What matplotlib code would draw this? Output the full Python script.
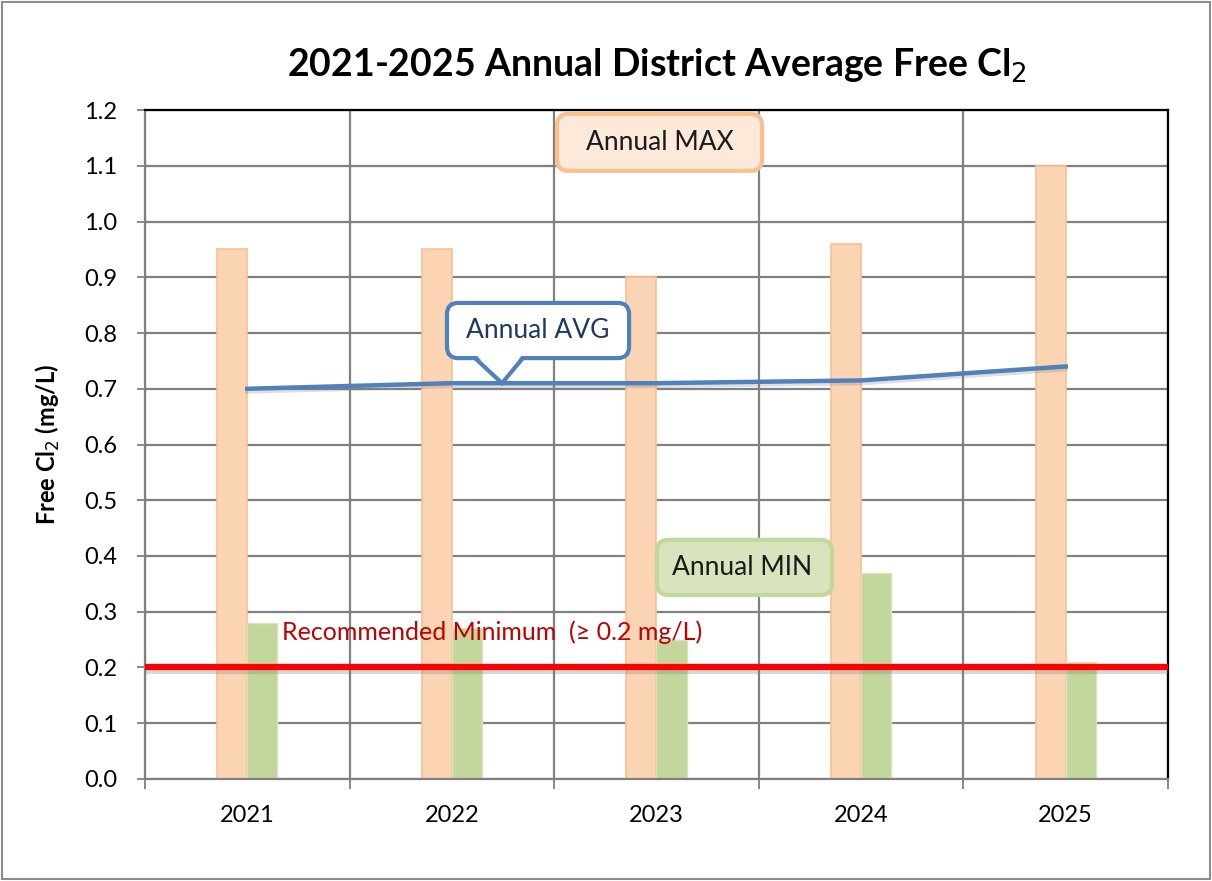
import matplotlib.pyplot as plt
import matplotlib.patheffects as pe
from matplotlib.patches import FancyBboxPatch
import numpy as np

plt.rcParams['font.family'] = ['Lato', 'DejaVu Sans']

years = ["2021", "2022", "2023", "2024", "2025"]
annual_max = [0.95, 0.95, 0.90, 0.96, 1.10]
annual_min = [0.28, 0.27, 0.25, 0.37, 0.21]
annual_avg = [0.70, 0.71, 0.71, 0.715, 0.74]
rec_min = 0.2

x = np.arange(len(years))
w = 0.147

fig = plt.figure(figsize=(12.12, 8.81), dpi=100)
ax = fig.add_axes([0.1196, 0.1158, 0.8441, 0.7593])

# outer chart border
fig.patches.append(plt.Rectangle((0.002, 0.002), 0.996, 0.996, transform=fig.transFigure,
                                 fill=False, ec="#8c8c8c", lw=1.5))

# grid
ax.set_xlim(-0.5, len(years) - 0.5)
ax.set_ylim(0, 1.2)
ax.set_yticks(np.arange(0, 1.21, 0.1))
ax.set_yticklabels([f"{v:.1f}" for v in np.arange(0, 1.21, 0.1)])
ax.set_xticks(x)
ax.set_xticklabels(years)
ax.set_xticks(np.arange(-0.5, len(years)), minor=True)
ax.tick_params(axis="x", which="major", length=0, labelsize=17, pad=19)
ax.tick_params(axis="x", which="minor", length=7, color="#808080", width=1.3)
ax.tick_params(axis="y", length=6, color="#808080", width=1.3, labelsize=17, pad=14)
ax.grid(True, axis="y", color="#808080", lw=1.6)
ax.grid(True, axis="x", which="minor", color="#808080", lw=1.6)
ax.set_axisbelow(True)
for s in ["left", "bottom"]:
    ax.spines[s].set_color("#808080")
    ax.spines[s].set_linewidth(1.6)
for s in ["top", "right"]:
    ax.spines[s].set_color("black")
    ax.spines[s].set_linewidth(1.6)

# bars
ax.bar(x - w / 2, annual_max, w, color="#FBD4B4", edgecolor="#FAC090", lw=1.2, zorder=2)
ax.bar(x + w / 2, annual_min, w, color="#C3D69B", edgecolor="#D7E4BD", lw=1, zorder=2)

# average line
ax.plot(x, annual_avg, color="#4F81BD", lw=3.2, zorder=4,
        path_effects=[pe.SimpleLineShadow(offset=(0, -2), shadow_color="gray", alpha=0.25), pe.Normal()])

# recommended minimum
ax.axhline(rec_min, color="#FF0000", lw=4.5, zorder=5,
           path_effects=[pe.SimpleLineShadow(offset=(0, -2.5), shadow_color="gray", alpha=0.3), pe.Normal()])
ax.text(0.17, 0.263, "Recommended Minimum  (\u2265 0.2 mg/L)", color="#C00000", fontsize=18,
        va="center", ha="left", zorder=6)

# callout boxes (data coords), rounded corners corrected for axis aspect
fig.canvas.draw()
bb = ax.get_window_extent()
aspect = (bb.width / 5.0) / (bb.height / 1.2)


def callout(x0, x1, y0, y1, fc, ec):
    p = FancyBboxPatch((x0, y0), x1 - x0, y1 - y0, boxstyle="round,pad=0,rounding_size=0.055",
                       mutation_aspect=aspect, fc=fc, ec=ec, lw=3, zorder=6, clip_on=False)
    ax.add_patch(p)


callout(1.514, 2.516, 1.091, 1.193, "#FDE9D9", "#FAC090")
ax.text(2.015, 1.142, "Annual MAX", fontsize=19, ha="center", va="center", color="#1a1a1a", zorder=7)

callout(2.002, 2.858, 0.330, 0.429, "#D7E4BD", "#C3D69B")
ax.text(2.418, 0.380, "Annual MIN", fontsize=19, ha="center", va="center", color="#1a1a1a", zorder=7)

callout(0.976, 1.866, 0.755, 0.854, "white", "#4F81BD")
ax.text(1.421, 0.804, "Annual AVG", fontsize=19, ha="center", va="center", color="#1F3864", zorder=7)
# pointer of the AVG callout, tip on the average line
tip_x = 1.245
tip_y = np.interp(tip_x, x, annual_avg)
px = [1.113, tip_x, 1.347]
py = [0.755, tip_y, 0.755]
ax.fill([px[0], px[1], px[2], px[2], px[0]], [py[0] + 0.008, py[1], py[2] + 0.008, 0.765, 0.765],
        color="white", zorder=8, lw=0)
ax.plot(px, py, color="#4F81BD", lw=3, zorder=9, solid_joinstyle="miter", solid_capstyle="butt")

ax.set_title("2021-2025 Annual District Average Free Cl$_2$", fontsize=27, fontweight="bold", pad=24)
ax.set_ylabel("Free Cl$_2$ (mg/L)", fontsize=17, fontweight="bold", labelpad=16)

fig.savefig("out.png", dpi=100)
